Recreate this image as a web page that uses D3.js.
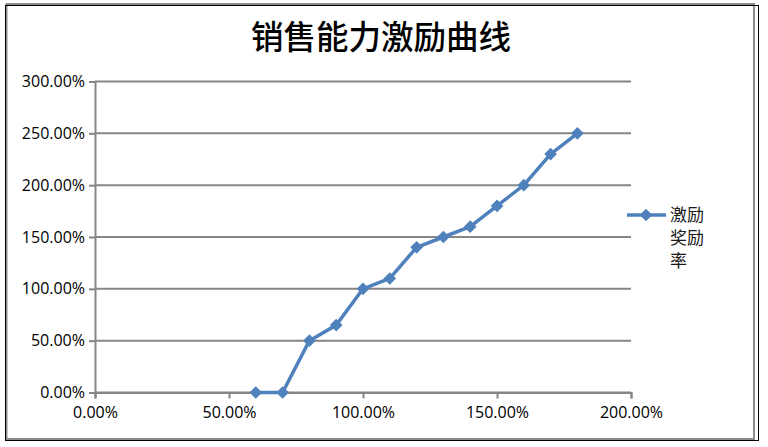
<!DOCTYPE html>
<html><head><meta charset="utf-8">
<script src="https://cdn.jsdelivr.net/npm/d3@7"></script>
<style>body{margin:0;background:#fff}svg{display:block}</style>
</head><body><svg id="c" width="768" height="447"></svg>
<script>
const title = "销售能力激励曲线";
const seriesName = ["激励","奖励","率"];
const xValues = [0.6,0.7,0.8,0.9,1.0,1.1,1.2,1.3,1.4,1.5,1.6,1.7,1.8];
const yValues = [0,0,0.5,0.65,1.0,1.1,1.4,1.5,1.6,1.8,2.0,2.3,2.5];
const xTicks = [0,0.5,1,1.5,2];
const yTicks = [0,0.5,1,1.5,2,2.5,3];

const svg = d3.select("#c");
const fmt = d3.format(".2%");
const lab = "'Open Sans','Noto Sans',sans-serif";
const blue = "#4f81bd";

// frame
svg.append("rect").attr("x",6.5).attr("y",4).attr("width",747.5).attr("height",435).attr("fill","none").attr("stroke","#8c8c8c").attr("stroke-width",2);
svg.append("rect").attr("x",5.5).attr("y",5.5).attr("width",753).attr("height",435).attr("fill","none").attr("stroke","#000").attr("stroke-width",1);

svg.append("text").attr("x",381).attr("y",49).attr("text-anchor","middle")
  .attr("font-family","'Noto Sans CJK SC'").attr("font-weight",500).attr("font-size",32.5).attr("fill","#000").text(title);

const x = d3.scaleLinear().domain([0,2]).range([95,631]);
const y = d3.scaleLinear().domain([0,3]).range([392.5,81.5]);

// gridlines
svg.append("g").selectAll("line").data(yTicks).join("line")
  .attr("x1",x(0)).attr("x2",x(2)).attr("y1",d=>y(d)).attr("y2",d=>y(d))
  .attr("stroke","#868686").attr("stroke-width",2);

const ya = svg.append("g").attr("transform",`translate(${x(0)},0)`)
  .call(d3.axisLeft(y).tickValues(yTicks).tickFormat(fmt).tickSize(6).tickPadding(4));
const xa = svg.append("g").attr("transform",`translate(0,${y(0)})`)
  .call(d3.axisBottom(x).tickValues(xTicks).tickFormat(fmt).tickSize(6).tickPadding(8));
[ya,xa].forEach(a=>{
  a.selectAll("path").attr("stroke","#868686").attr("stroke-width",2);
  a.selectAll(".tick line").attr("stroke","#868686").attr("stroke-width",2);
  a.selectAll("text").attr("font-family",lab).attr("font-size",16).attr("fill","#000");
});

const pts = xValues.map((v,i)=>[v,yValues[i]]);
svg.append("path").datum(pts).attr("fill","none").attr("stroke",blue).attr("stroke-width",3.5)
  .attr("stroke-linejoin","round")
  .attr("d",d3.line().x(d=>x(d[0])).y(d=>y(d[1])));
const sym = d3.symbol().type(d3.symbolSquare).size(80);
svg.append("g").selectAll("path").data(pts).join("path")
  .attr("d",sym).attr("fill",blue)
  .attr("transform",d=>`translate(${x(d[0])},${y(d[1])}) rotate(45)`);

// legend
svg.append("line").attr("x1",627).attr("x2",666).attr("y1",215).attr("y2",215).attr("stroke",blue).attr("stroke-width",3.5);
svg.append("path").attr("d",sym).attr("fill",blue).attr("transform","translate(646,215) rotate(45)");
svg.append("g").selectAll("text").data(seriesName).join("text")
  .attr("x",670).attr("y",(d,i)=>221+i*23)
  .attr("font-family","'Noto Sans CJK SC'").attr("font-size",17).attr("fill","#1a1a1a").text(d=>d);
</script></body></html>
